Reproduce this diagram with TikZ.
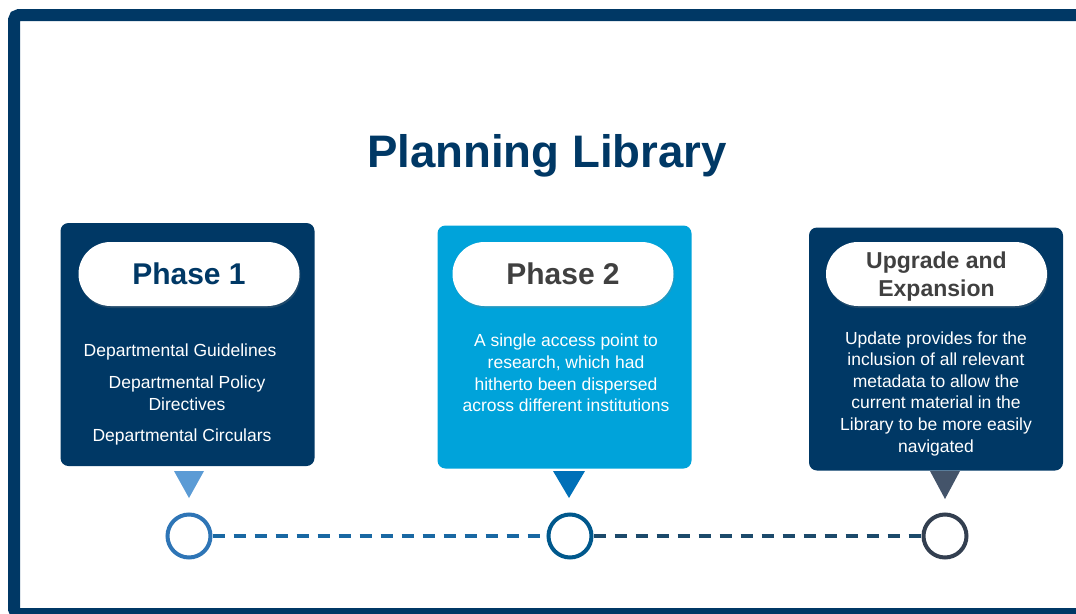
\documentclass[tikz,border=0pt]{standalone}
\usepackage{fontspec}
\setmainfont{Liberation Sans}
\usetikzlibrary{shadows}
\definecolor{navy}{RGB}{0,56,101}
\definecolor{skyblue}{RGB}{0,163,218}
\definecolor{greytext}{RGB}{64,64,64}
\definecolor{dotone}{RGB}{46,117,182}
\definecolor{dottwo}{RGB}{0,88,140}
\definecolor{dotthree}{RGB}{51,63,80}
\definecolor{tipone}{RGB}{91,155,213}
\definecolor{tiptwo}{RGB}{0,112,184}
\definecolor{tipthree}{RGB}{68,84,106}
\newcommand\fsize[2]{\fontsize{#1}{#2}\selectfont}

\begin{document}
\begin{tikzpicture}[x=1pt,y=-1pt,
    card/.style={rectangle, rounded corners=8pt, minimum width=254pt, minimum height=243pt, inner sep=0pt},
    pill/.style={rectangle, rounded corners=32pt, fill=white, minimum width=221pt, minimum height=64pt, inner sep=0pt, align=center,
      drop shadow={opacity=0.25, shadow xshift=1pt, shadow yshift=-2pt}},
    body/.style={text=white, align=center, font=\fsize{17.5}{21.6}},
    dot/.style={circle, fill=white, line width=4pt, minimum size=43pt, inner sep=0pt},
    link/.style={line width=4pt, dash pattern=on 12pt off 9pt}]
        \useasboundingbox (0,0) rectangle (1076,613);

        %frame and title
        \draw[navy, line width=12pt, rounded corners=5pt] (14,15) rectangle (1095,614);
        \node[font=\bfseries\fsize{45.6}{50}, text=navy, anchor=base] (title) at (547,167) {Planning Library};

        %the three cards
        \node[card, fill=navy] (card1) at (187.5,344.5) {};
        \node[card, fill=skyblue] (card2) at (564.5,347) {};
        \node[card, fill=navy] (card3) at (936,349) {};

        %headings
        \node[pill, text=navy, font=\bfseries\fsize{30}{36}] (pill1) at (189,274) {Phase 1};
        \node[pill, text=greytext, font=\bfseries\fsize{30}{36}] (pill2) at (563,274) {Phase 2};
        \node[pill, text=greytext, font=\bfseries\fsize{23}{28}, text depth=0pt] (pill3) at (936.5,274) {Upgrade and\\Expansion};

        %card texts
        \node[body] (text1a) at (180,351.5) {Departmental Guidelines};
        \node[body] (text1b) at (187,393.5) {Departmental Policy\\Directives};
        \node[body] (text1c) at (182,436.5) {Departmental Circulars};
        \node[body] (text2) at (566,373) {A single access point to\\research, which had\\hitherto been dispersed\\across different institutions};
        \node[body] (text3) at (936,393.5) {Update provides for the\\inclusion of all relevant\\metadata to allow the\\current material in the\\Library to be more easily\\navigated};

        %pointers
        \fill[tipone] (174,471) -- (204,471) -- (189,498) -- cycle;
        \fill[tiptwo] (553,471) -- (585,471) -- (569,498) -- cycle;
        \fill[tipthree] (930,471) -- (960,471) -- (945,499) -- cycle;

        %time line
        \node[dot, draw=dotone] (dot1) at (189,536) {};
        \node[dot, draw=dottwo] (dot2) at (570,536) {};
        \node[dot, draw=dotthree] (dot3) at (945,536) {};
        \draw[link, draw=dotone!55!dottwo] (dot1) -- (dot2);
        \draw[link, draw=dottwo!45!dotthree] (dot2) -- (dot3);
      \end{tikzpicture}
\end{document}
